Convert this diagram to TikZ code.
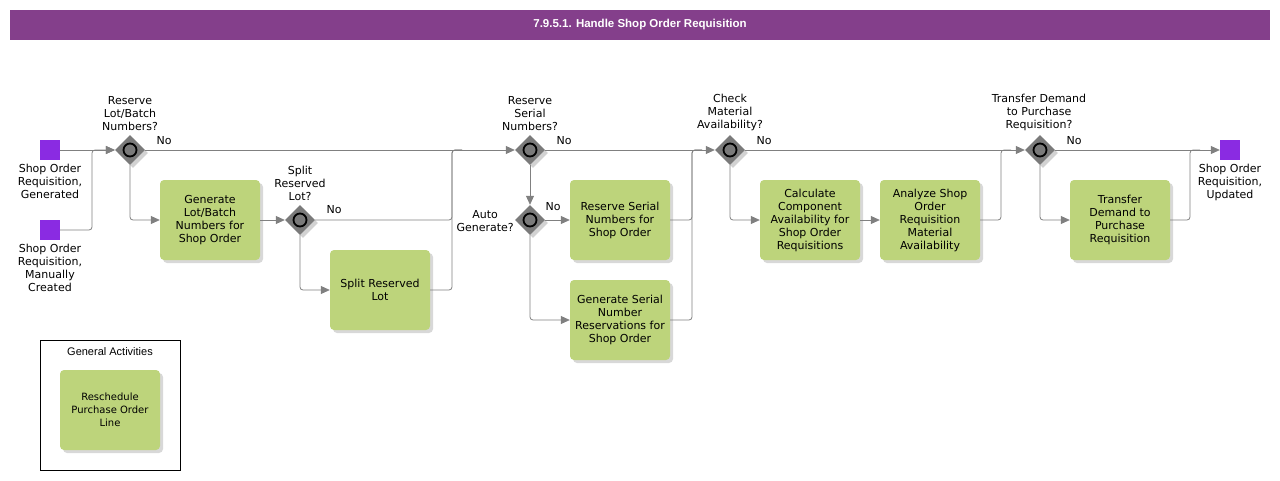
\documentclass[tikz,border=0pt]{standalone}
\usepackage{fontspec}
\setmainfont{DejaVu Sans}
\newfontfamily\arialfont{Liberation Sans}
\usepackage{xcolor}
\usetikzlibrary{arrows.meta,shapes.geometric,shadows}

\definecolor{titlebar}{HTML}{843F8B}
\definecolor{taskgreen}{HTML}{BDD47B}
\definecolor{eventpurple}{HTML}{8A2BE2}
\definecolor{gategray}{HTML}{7A7A7A}
\definecolor{linegray}{HTML}{808080}

\begin{document}
\begin{tikzpicture}[x=1pt, y=-1pt,
    every node/.style={font=\fontsize{11}{13}\selectfont, align=center},
    task/.style={rectangle, rounded corners=4pt, fill=taskgreen,
        minimum width=100pt, minimum height=80pt, inner sep=2pt,
        drop shadow={shadow xshift=3pt, shadow yshift=-3pt, fill=black!30}},
    gate/.style={diamond, fill=gategray, minimum width=30pt, minimum height=30pt,
        inner sep=0pt,
        drop shadow={shadow xshift=3pt, shadow yshift=-3pt, fill=black!35},
        path picture={\draw[line width=1.8pt, fill=gategray]
            (path picture bounding box.center) circle (6.5pt);}},
    event/.style={rectangle, fill=eventpurple, minimum size=20pt, inner sep=0pt},
    lbl/.style={inner sep=0pt},
    flow/.style={draw=linegray, line width=0.8pt, rounded corners=3pt,
        -{Triangle[length=9pt, width=8pt, fill=linegray]}},
    seg/.style={draw=linegray, line width=0.8pt, rounded corners=3pt}]

    \useasboundingbox (0,0) rectangle (1280,480);

    % Title bar
    \fill[titlebar] (10,10) rectangle (1270,40);
    \node[text=white, font=\arialfont\bfseries\fontsize{11.5}{13}\selectfont] (title) at (640,25) {7.9.5.1. Handle Shop Order Requisition};

    % Events
    \node[event] (start1) at (50,150) {};
    \node[event] (start2) at (50,230) {};
    \node[event] (finish) at (1230,150) {};
    \node[lbl, anchor=north] (start1lbl) at (50,164) {Shop Order\\Requisition,\\Generated};
    \node[lbl, anchor=north] (start2lbl) at (50,244) {Shop Order\\Requisition,\\Manually\\Created};
    \node[lbl, anchor=north] (finishlbl) at (1230,164) {Shop Order\\Requisition,\\Updated};

    % Gateways
    \node[gate] (lotgate) at (130,150) {};
    \node[gate] (splitgate) at (300,220) {};
    \node[gate] (serialgate) at (530,150) {};
    \node[gate] (autogate) at (530,220) {};
    \node[gate] (checkgate) at (730,150) {};
    \node[gate] (transgate) at (1040,150) {};

    \node[lbl, anchor=south] (lotlbl) at (130,131) {Reserve\\Lot/Batch\\Numbers?};
    \node[lbl, anchor=south] (splitlbl) at (300,201) {Split\\Reserved\\Lot?};
    \node[lbl, anchor=south] (seriallbl) at (530,131) {Reserve\\Serial\\Numbers?};
    \node[lbl, anchor=east] (autolbl) at (514,221) {Auto\\Generate?};
    \node[lbl, anchor=south] (checklbl) at (730,131) {Check\\Material\\Availability?};
    \node[lbl, anchor=south] (translbl) at (1039,131) {Transfer Demand\\to Purchase\\Requisition?};

    % No labels
    \node[lbl] (no1) at (164,141) {No};
    \node[lbl] (no2) at (334,210) {No};
    \node[lbl] (no3) at (564,141) {No};
    \node[lbl] (no4) at (553,207) {No};
    \node[lbl] (no5) at (764,141) {No};
    \node[lbl] (no6) at (1074,141) {No};

    % Tasks
    \node[task] (genlot) at (210,220) {Generate\\Lot/Batch\\Numbers for\\Shop Order};
    \node[task] (splitlot) at (380,290) {Split Reserved\\Lot};
    \node[task] (resserial) at (620,220) {Reserve Serial\\Numbers for\\Shop Order};
    \node[task] (genserial) at (620,320) {Generate Serial\\Number\\Reservations for\\Shop Order};
    \node[task] (calccomp) at (810,220) {Calculate\\Component\\Availability for\\Shop Order\\Requisitions};
    \node[task] (analyze) at (930,220) {Analyze Shop\\Order\\Requisition\\Material\\Availability};
    \node[task] (transfer) at (1120,220) {Transfer\\Demand to\\Purchase\\Requisition};

    % General activities
    \draw[line width=0.6pt] (40,340) rectangle (180,470);
    \node[font=\arialfont\fontsize{11}{13}\selectfont] (genact) at (110,352) {General Activities};
    \node[task, font=\fontsize{10}{13}\selectfont] (resched) at (110,410) {Reschedule\\Purchase Order\\Line};

    % Connectors
    \draw[flow] (start1) -- (lotgate);
    \draw[flow] (start2) -- (92,230) |- (lotgate);
    \draw[flow] (lotgate) -- (serialgate);
    \draw[flow] (lotgate) |- (genlot);
    \draw[flow] (genlot) -- (splitgate);
    \draw[seg] (splitgate) -- (452,220) |- (462,150);
    \draw[flow] (splitgate) |- (splitlot);
    \draw[seg] (splitlot) -- (452,290) |- (462,150);
    \draw[flow] (serialgate) -- (autogate);
    \draw[flow] (autogate) -- (resserial);
    \draw[flow] (autogate) |- (genserial);
    \draw[flow] (serialgate) -- (checkgate);
    \draw[seg] (resserial) -- (692,220) |- (702,150);
    \draw[seg] (genserial) -- (692,320) |- (702,150);
    \draw[flow] (checkgate) |- (calccomp);
    \draw[flow] (calccomp) -- (analyze);
    \draw[seg] (analyze) -- (1001,220) |- (1011,150);
    \draw[flow] (checkgate) -- (transgate);
    \draw[flow] (transgate) |- (transfer);
    \draw[flow] (transgate) -- (finish);
    \draw[seg] (transfer) -- (1190,220) |- (1200,150);
\end{tikzpicture}
\end{document}
